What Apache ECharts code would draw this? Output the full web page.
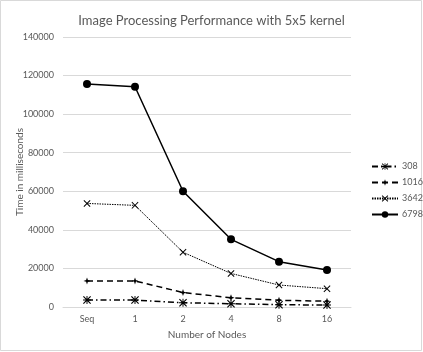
<!DOCTYPE html>
<html><head><meta charset="utf-8">
<script src="https://cdn.jsdelivr.net/npm/echarts@6/dist/echarts.min.js"></script>
<style>html,body{margin:0;padding:0;background:#fff}#c{width:423px;height:352px}</style>
</head><body><div id="c"></div>
<script>
const categories = ['Seq', '1', '2', '4', '8', '16'];
const s308 = [3600, 3600, 2200, 1700, 1200, 1000];
const s1016 = [13500, 13500, 7500, 4800, 3500, 3000];
const s3642 = [53700, 52700, 28400, 17400, 11400, 9500];
const s6798 = [115600, 114200, 60000, 35100, 23500, 19200];
const seriesNames = ['308', '1016', '3642', '6798'];

const xPath = 'path://M0,1L1,0L5,4L9,0L10,1L6,5L10,9L9,10L5,6L1,10L0,9L4,5Z';
const starPath = 'path://M0,1L1,0L4.4,3.4L4.4,0L5.6,0L5.6,3.4L9,0L10,1L6.6,4.4L10,4.4L10,5.6L6.6,5.6L10,9L9,10L5.6,6.6L5.6,10L4.4,10L4.4,6.6L1,10L0,9L3.4,5.6L0,5.6L0,4.4L3.4,4.4Z';
const plusPath = 'path://M5,0L6.3,3.7L10,5L6.3,6.3L5,10L3.7,6.3L0,5L3.7,3.7Z';

const F = 'Lato, Open Sans, Liberation Sans, sans-serif';
const chart = echarts.init(document.getElementById('c'), null, {renderer: 'canvas'});
const txt = '#595959';
function mk(name, data, symbol, size, lineType, width) {
  return {
    name, type: 'line', data, symbol, symbolSize: size, showAllSymbol: true,
    lineStyle: {color: '#000', width: width, type: lineType},
    itemStyle: {color: '#000', borderColor: '#000', borderWidth: 0},
    emphasis: {disabled: true}, animation: false
  };
}
chart.setOption({
  animation: false,
  backgroundColor: '#fff',
  title: {
    text: 'Image Processing Performance with 5x5 kernel',
    left: 'center', top: 9,
    textStyle: {fontFamily: F, fontSize: 13, fontWeight: 'normal', color: txt}
  },
  graphic: [{type: 'rect', shape: {x: 0.5, y: 0.5, width: 421, height: 350}, style: {fill: 'none', stroke: '#d9d9d9', lineWidth: 1}, silent: true}],
  legend: {
    orient: 'vertical', left: 366, top: 157, itemGap: 7, itemWidth: 26, itemHeight: 8,
    data: seriesNames,
    textStyle: {fontFamily: F, fontSize: 9, color: txt, padding: [0, 0, 0, -1]}
  },
  grid: {left: 63, right: 72, top: 37, bottom: 45, containLabel: false},
  xAxis: {
    type: 'category', data: categories, boundaryGap: true,
    name: 'Number of Nodes', nameLocation: 'middle', nameGap: 23, nameMoveOverlap: false,
    nameTextStyle: {fontFamily: F, fontSize: 10, color: txt},
    axisLine: {lineStyle: {color: '#d9d9d9'}}, axisTick: {show: false},
    axisLabel: {fontFamily: F, fontSize: 9, color: txt, margin: 8}
  },
  yAxis: {
    type: 'value', min: 0, max: 140000, interval: 20000,
    name: 'Time in milliseconds', nameLocation: 'middle', nameGap: 38, nameRotate: 90, nameMoveOverlap: false,
    nameTextStyle: {fontFamily: F, fontSize: 10, color: txt},
    axisLine: {show: false}, axisTick: {show: false},
    splitLine: {lineStyle: {color: '#d9d9d9'}},
    axisLabel: {fontFamily: F, fontSize: 9, color: txt, margin: 9, formatter: v => String(v)}
  },
  series: [
    mk('308', s308, starPath, 8, [6, 3, 1.5, 3], 1.5),
    mk('1016', s1016, plusPath, 7, [6, 4], 1.5),
    mk('3642', s3642, xPath, 7, [1.5, 1], 1),
    mk('6798', s6798, 'circle', 8, 'solid', 1.5)
  ]
});
</script></body></html>
